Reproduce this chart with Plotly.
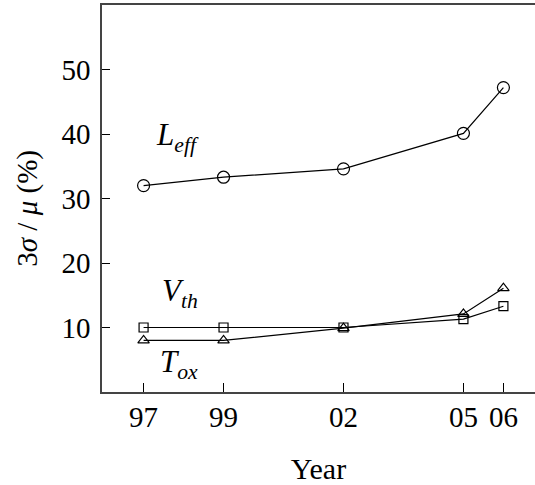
import plotly.graph_objects as go

years = [1997, 1999, 2002, 2005, 2006]
tick_labels = ["97", "99", "02", "05", "06"]
leff = [32.0, 33.3, 34.6, 40.1, 47.2]
vth = [10.0, 10.0, 10.0, 11.3, 13.3]
tox = [8.0, 8.0, 9.9, 12.1, 16.1]

FONT = "Liberation Serif"
fig = go.Figure()
line = dict(color="black", width=1.2)
fig.add_trace(go.Scatter(x=years, y=leff, mode="lines+markers", line=line,
                         marker=dict(symbol="circle-open", size=12, color="black", line=dict(width=1.2))))
fig.add_trace(go.Scatter(x=years, y=vth, mode="lines+markers", line=line,
                         marker=dict(symbol="square-open", size=9, color="black", line=dict(width=1.2))))
fig.add_trace(go.Scatter(x=years, y=tox, mode="lines+markers", line=line,
                         marker=dict(symbol="triangle-up-open", size=10, color="black", line=dict(width=1.2))))

ann_font = dict(family=FONT, size=31, color="black")
fig.add_annotation(x=1997.85, y=39.6, text="<i>L</i><sub><i>eff</i></sub>", showarrow=False, font=ann_font)
fig.add_annotation(x=1997.9, y=15.3, text="<i>V</i><sub><i>th</i></sub>", showarrow=False, font=ann_font)
fig.add_annotation(x=1997.88, y=4.3, text="<i>T</i><sub><i>ox</i></sub>", showarrow=False, font=ann_font)
fig.add_annotation(xref="paper", yref="paper", x=-0.172, y=0.475, xanchor="center", yanchor="middle",
                   text="3<i>σ</i> / <i>μ</i> (%)",
                   textangle=-90, showarrow=False, font=dict(family=FONT, size=29, color="black"))

fig.update_layout(
    width=535, height=485,
    margin=dict(l=102, r=0, t=5, b=93),
    plot_bgcolor="white", paper_bgcolor="white",
    showlegend=False,
    font=dict(family=FONT, size=29, color="black"),
    xaxis=dict(range=[1995.96, 2006.79], tickvals=years, ticktext=tick_labels,
               ticks="inside", ticklen=9, tickcolor="black", tickwidth=1,
               showline=True, linecolor="#444", linewidth=1.5, mirror=True,
               showgrid=False, zeroline=False, ticklabelstandoff=-2,
               title=dict(text="Year", font=dict(size=30), standoff=27)),
    yaxis=dict(range=[0, 60], tickvals=[10, 20, 30, 40, 50],
               ticks="inside", ticklen=8, tickcolor="black", tickwidth=1,
               showline=True, linecolor="#444", linewidth=1.5, mirror=False,
               showgrid=False, zeroline=False, ticklabelstandoff=4),
)
fig.write_html("out.html", config={"displayModeBar": False},
               post_script="document.body.style.margin='0';")
